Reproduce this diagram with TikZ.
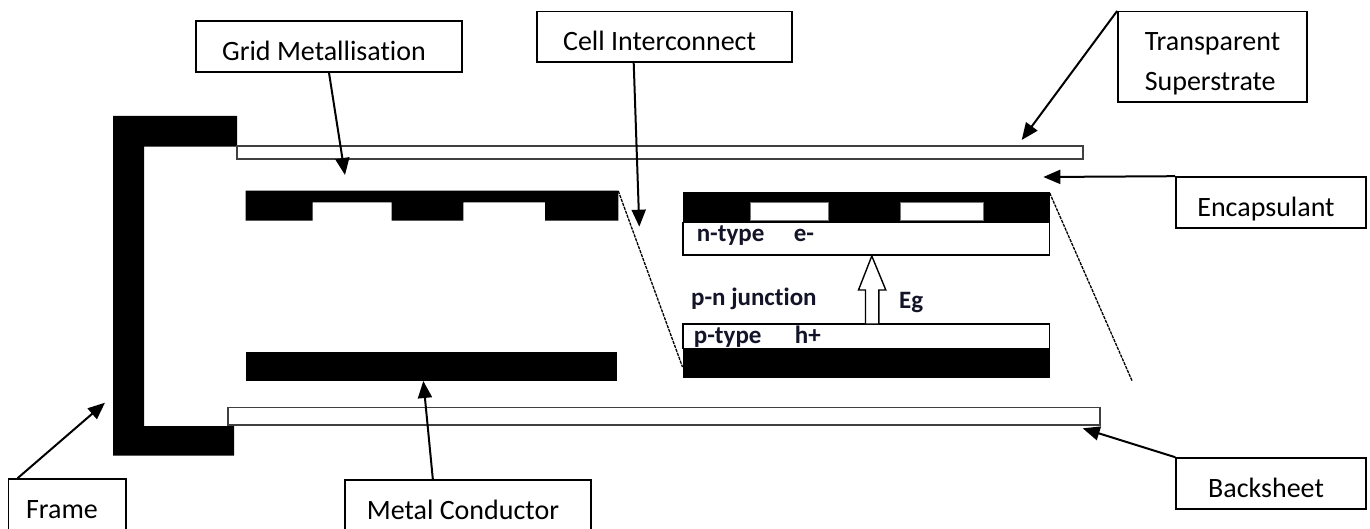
\documentclass[tikz,border=0pt]{standalone}
\usepackage{fontspec}
\setmainfont{Carlito}[Ligatures=NoCommon]
\usetikzlibrary{arrows.meta,calc}
\definecolor{tagcol}{RGB}{20,20,40}
\begin{document}
\begin{tikzpicture}[x=0.5pt,y=-0.5pt,
  callout/.style={draw=black,line width=0.8pt,fill=white,
    font=\fontsize{14}{20}\selectfont,inner sep=0pt,
    text height=17pt,text depth=3pt},
  leftish/.style={execute at end node={\hspace*{5pt}}},
  pointer/.style={line width=1pt,-{Triangle[length=8.5pt,width=7pt]}},
  layerbar/.style={draw=black!75,line width=0.7pt,fill=white},
  cellbox/.style={draw=black,line width=0.7pt,fill=white},
  window/.style={draw=black!55,line width=0.5pt,fill=white},
  tag/.style={font=\bfseries\fontsize{12.5}{14}\selectfont,text=tagcol,
    inner sep=0pt,anchor=base west},
  seam/.style={line width=0.65pt,dash pattern=on 1.6pt off 0.5pt}]
\useasboundingbox (0,0) rectangle (1370,529);
\clip (0,0) rectangle (1370,529);

% module frame (C-shaped profile)
\fill (113,116) -- (237,116) -- (237,146.7) -- (144,146.7) -- (144,426)
  -- (234,426) -- (234,455.7) -- (113,455.7) -- cycle;

% superstrate and backsheet
\draw[layerbar] (237,146) rectangle (1083,159);
\draw[layerbar] (228,407.5) rectangle (1100,425);

% grid metallisation on the first cell
\fill (245.7,190.7) -- (618.3,190.7) -- (618.3,220.7) -- (545,220.7)
  -- (545,202.3) -- (463.3,202.3) -- (463.3,220.7) -- (391.7,220.7)
  -- (391.7,202.3) -- (312.7,202.3) -- (312.7,220.7) -- (245.7,220.7) -- cycle;

% rear metal conductor
\fill (245.7,351.7) rectangle (616.7,381);

% second cell: front contact, n-type and p-type layers, rear contact
\fill (683,191.7) rectangle (1049.5,222.7);
\draw[window] (750,202.3) rectangle (828.6,220.7);
\draw[window] (900.6,202.3) rectangle (983.3,220.7);
\draw[cellbox] (683,222.7) rectangle (1049.5,255);
\draw[cellbox] (683,324) rectangle (1049.5,348.3);
\fill (683,348.3) rectangle (1049.5,378.3);

% interconnect seams
\draw[seam] (618.3,191) -- (682.5,367);
\draw[seam] (1049.7,193) -- (1132,380.7);

% band-gap arrow
\draw[line width=0.7pt,fill=white] (865.5,324) -- (865.5,290) -- (858.5,290)
  -- (871.8,256) -- (885.8,290) -- (878.8,290) -- (878.8,324) -- cycle;

% layer labels
\node[tag] (ntype) at (696.4,242) {n-type};
\node[tag] (nel) at (793.5,242) {e-};
\node[tag] (pn) at (690.7,306) {p-n junction};
\node[tag] (eg) at (898.8,308) {Eg};
\node[tag] (ptype) at (693.5,343.5) {p-type};
\node[tag] (ph) at (794.5,343.5) {h+};

% callouts
\node[callout,leftish,minimum width=133pt,minimum height=25.5pt] (grid) at (329,46.5) {Grid Metallisation};
\node[callout,leftish,minimum width=127.5pt,minimum height=25.3pt] (cell) at (664.5,37) {Cell Interconnect};
\node[callout,minimum width=94.5pt,minimum height=45.3pt,align=left,
  text height=37pt] (ts) at (1212.5,57) {Transparent\\Superstrate};
\node[callout,leftish,minimum width=95pt,minimum height=25.5pt] (enc) at (1271,202.5) {Encapsulant};
\node[callout,leftish,minimum width=95pt,minimum height=25.5pt] (back) at (1271,483.5) {Backsheet};
\node[callout,leftish,minimum width=58.7pt,minimum height=25.5pt] (frame) at (67,504.5) {Frame};
\node[callout,leftish,minimum width=123pt,minimum height=25.5pt] (metal) at (468,505.5) {Metal Conductor};

% pointer targets
\coordinate (gridT) at (345,175);
\coordinate (cellT) at (639.3,226.7);
\coordinate (tsT) at (1021.7,140);
\coordinate (encT) at (1043.3,177);
\coordinate (backT) at (1082.7,428.3);
\coordinate (frameT) at (105,402.7);
\coordinate (metalT) at (423.3,381);

\draw[pointer] (grid.south) -- (gridT);
\draw[pointer] ($(cell.south west)!0.38!(cell.south east)$) -- (cellT);
\draw[pointer] (ts.north west) -- (tsT);
\draw[pointer] (enc.north west) -- (encT);
\draw[pointer] (back.north west) -- (backT);
\draw[pointer] ($(frame.north west)!0.085!(frame.north east)$) -- (frameT);
\draw[pointer] ($(metal.north west)!0.358!(metal.north east)$) -- (metalT);
\end{tikzpicture}
\end{document}
